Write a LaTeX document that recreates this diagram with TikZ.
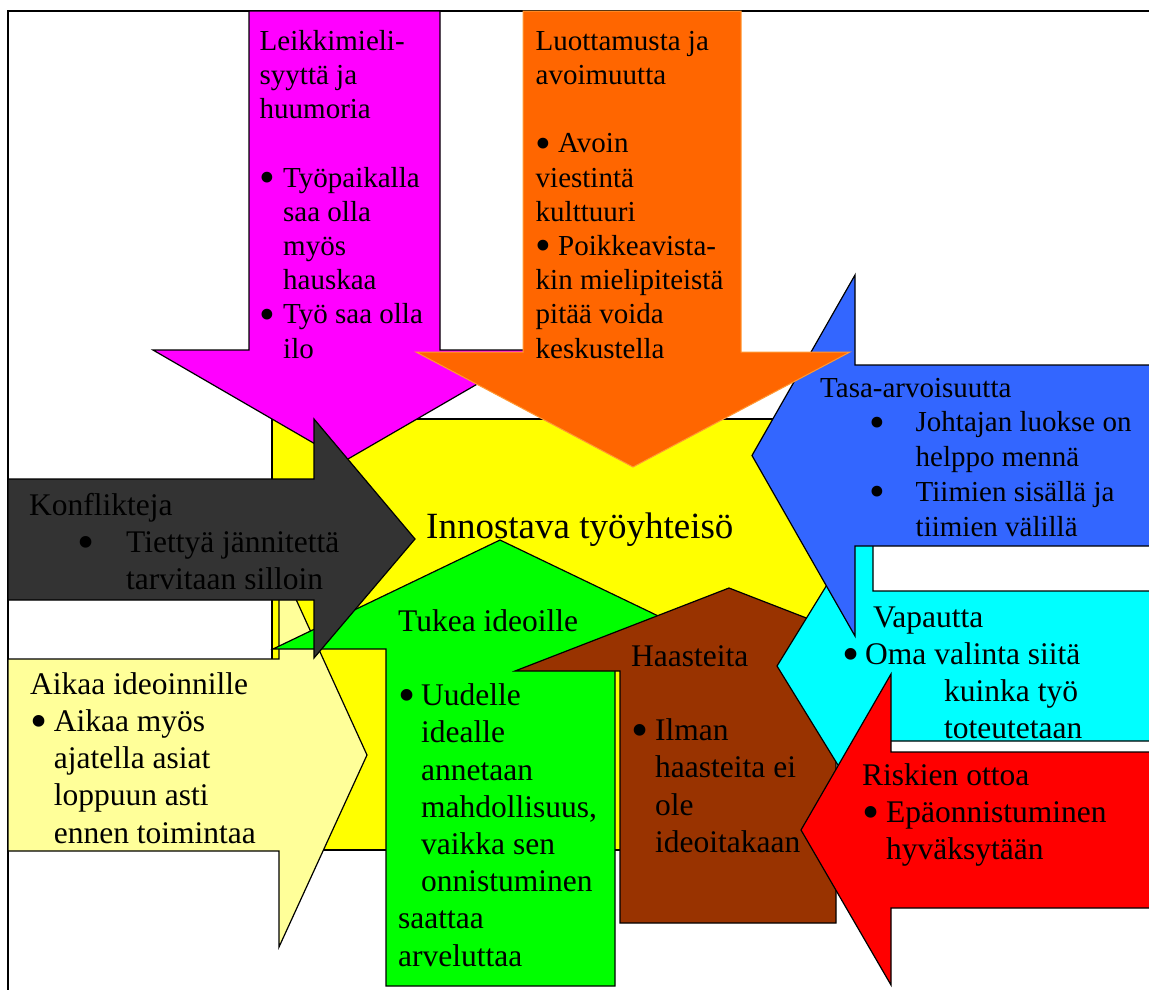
\documentclass[tikz,border=0pt]{standalone}
\usepackage{graphicx}
\usepackage{fontspec}
\setmainfont{Liberation Serif}
\definecolor{cMagenta}{HTML}{FF00FF}
\definecolor{cOrange}{HTML}{FF6600}
\definecolor{cOrangeLine}{HTML}{FF9933}
\definecolor{cYellow}{HTML}{FFFF00}
\definecolor{cLight}{HTML}{FFFF99}
\definecolor{cGreen}{HTML}{00FF00}
\definecolor{cBrown}{HTML}{993300}
\definecolor{cCyan}{HTML}{00FFFF}
\definecolor{cBlue}{HTML}{3366FF}
\definecolor{cRed}{HTML}{FF0000}
\definecolor{cDark}{HTML}{333333}
% bullet followed by a fixed gap, and a plain indent
\newcommand{\bigbullet}{\smash{\raisebox{-0.19em}{\scalebox{1.55}{\textbullet}}}}
\newcommand{\bl}[1]{\makebox[#1][l]{\bigbullet}}
\newcommand{\ind}[1]{\hspace*{#1}}
\tikzset{
  outl/.style={draw=black, line width=1.2pt, line join=miter},
  txt/.style={inner sep=0pt, anchor=north west, align=left, text=black},
  small/.style={font=\fontsize{29}{34.2}\selectfont},
  smallb/.style={font=\fontsize{29}{34.7}\selectfont},
  large/.style={font=\fontsize{31.5}{37.2}\selectfont},
}
\begin{document}
\begin{tikzpicture}[x=1pt,y=-1pt]
\useasboundingbox (0,0) rectangle (1149,989);
\clip (0,0) rectangle (1149,989);
\fill[white] (0,0) rectangle (1149,989);
% outer frame
\draw[line width=2pt] (1160,11) -- (8,11) -- (8,1000);

% central field
\draw[outl, fill=cYellow] (272,419) rectangle (830,850);
% play and humour, pointing down
\draw[outl, fill=cMagenta] (249,11) -- (440,11) -- (440,350) -- (536,350) -- (344.5,461) -- (153,350) -- (249,350) -- cycle;
% time for ideas, pointing right
\draw[outl, fill=cLight] (8,659) -- (279,659) -- (279,562) -- (367,755) -- (279,947) -- (279,851) -- (8,851) -- cycle;
% support for ideas, pointing up
\draw[outl, fill=cGreen] (386,986) -- (386,649) -- (273,649) -- (500,540) -- (727,649) -- (615,649) -- (615,986) -- cycle;
% challenges, pointing up
\draw[outl, fill=cBrown] (620,923) -- (620,671) -- (515,671) -- (729,588) -- (943,671) -- (836,671) -- (836,923) -- cycle;
% freedom, pointing left
\draw[outl, fill=cCyan] (1160,591) -- (873,591) -- (873,510) -- (777,666) -- (873,822) -- (873,741) -- (1160,741) -- cycle;
% equality, pointing left
\draw[outl, fill=cBlue] (1160,365) -- (855,365) -- (855,275) -- (752,455.5) -- (855,636) -- (855,546) -- (1160,546) -- cycle;
% trust and openness, pointing down
\draw[draw=cOrangeLine, line width=1pt, line join=miter, fill=cOrange] (523,11) -- (741,11) -- (741,352) -- (850,352) -- (633,467) -- (416,352) -- (523,352) -- cycle;
% risk taking, pointing left
\draw[outl, fill=cRed] (1160,752) -- (891,752) -- (891,674) -- (801,830) -- (891,985) -- (891,908) -- (1160,908) -- cycle;
% conflicts, pointing right
\draw[outl, fill=cDark] (8,479) -- (314,479) -- (314,419) -- (415,539) -- (314,658) -- (314,600) -- (8,600) -- cycle;

% texts
\node[txt, small] (tplay) at (259.5,26.06) {\strut Leikkimieli-\\ syyttä ja\\ huumoria\\ \mbox{}\\
  \bl{23.5pt}Työpaikalla\\ \ind{23.5pt}saa olla\\ \ind{23.5pt}myös\\ \ind{23.5pt}hauskaa\\
  \bl{23.5pt}Työ saa olla\\ \ind{23.5pt}ilo};
\node[txt, small] (ttrust) at (535.5,26.06) {\strut Luottamusta ja\\ avoimuutta\\ \mbox{}\\
  \bl{22.5pt}Avoin\\ viestintä\\ kulttuuri\\ \bl{22.5pt}Poikkeavista-\\ kin mielipiteistä\\ pitää voida\\ keskustella};
\node[txt, smallb] (tequal) at (820,372.7) {\strut Tasa-arvoisuutta\\
  \ind{49pt}\bl{46.5pt}Johtajan luokse on\\ \ind{95.5pt}helppo mennä\\
  \ind{49pt}\bl{46.5pt}Tiimien sisällä ja\\ \ind{95.5pt}tiimien välillä};
\node[txt, large] (tconf) at (29,489) {\strut Konflikteja\\
  \ind{48pt}\bl{49pt}Tiettyä jännitettä\\ \ind{97pt}tarvitaan silloin};
\node[txt, large] (ttime) at (30,668) {\strut Aikaa ideoinnille\\
  \bl{23.6pt}Aikaa myös\\ \ind{23.6pt}ajatella asiat\\ \ind{23.6pt}loppuun asti\\ \ind{23.6pt}ennen toimintaa};
\node[txt, large] (tsupport) at (398,605) {\strut Tukea ideoille\\ \mbox{}\\
  \bl{23pt}Uudelle\\ \ind{23pt}idealle\\ \ind{23pt}annetaan\\ \ind{23pt}mahdollisuus,\\
  \ind{23pt}vaikka sen\\ \ind{23pt}onnistuminen\\ saattaa\\ arveluttaa};
\node[txt, large] (tchall) at (631,640) {\strut Haasteita\\ \mbox{}\\
  \bl{24pt}Ilman\\ \ind{24pt}haasteita ei\\ \ind{24pt}ole\\ \ind{24pt}ideoitakaan};
\node[txt, large] (tfree) at (842,601) {\strut\ind{31pt}Vapautta\\
  \bl{23pt}Oma valinta siitä\\ \ind{102pt}kuinka työ\\ \ind{102pt}toteutetaan};
\node[txt, large] (trisk) at (862,759) {\strut Riskien ottoa\\
  \bl{24pt}Epäonnistuminen\\ \ind{24pt}hyväksytään};
\node[inner sep=0pt, anchor=base west, font=\fontsize{37}{44}\selectfont] (center) at (426,538) {Innostava työyhteisö};
\end{tikzpicture}
\end{document}
